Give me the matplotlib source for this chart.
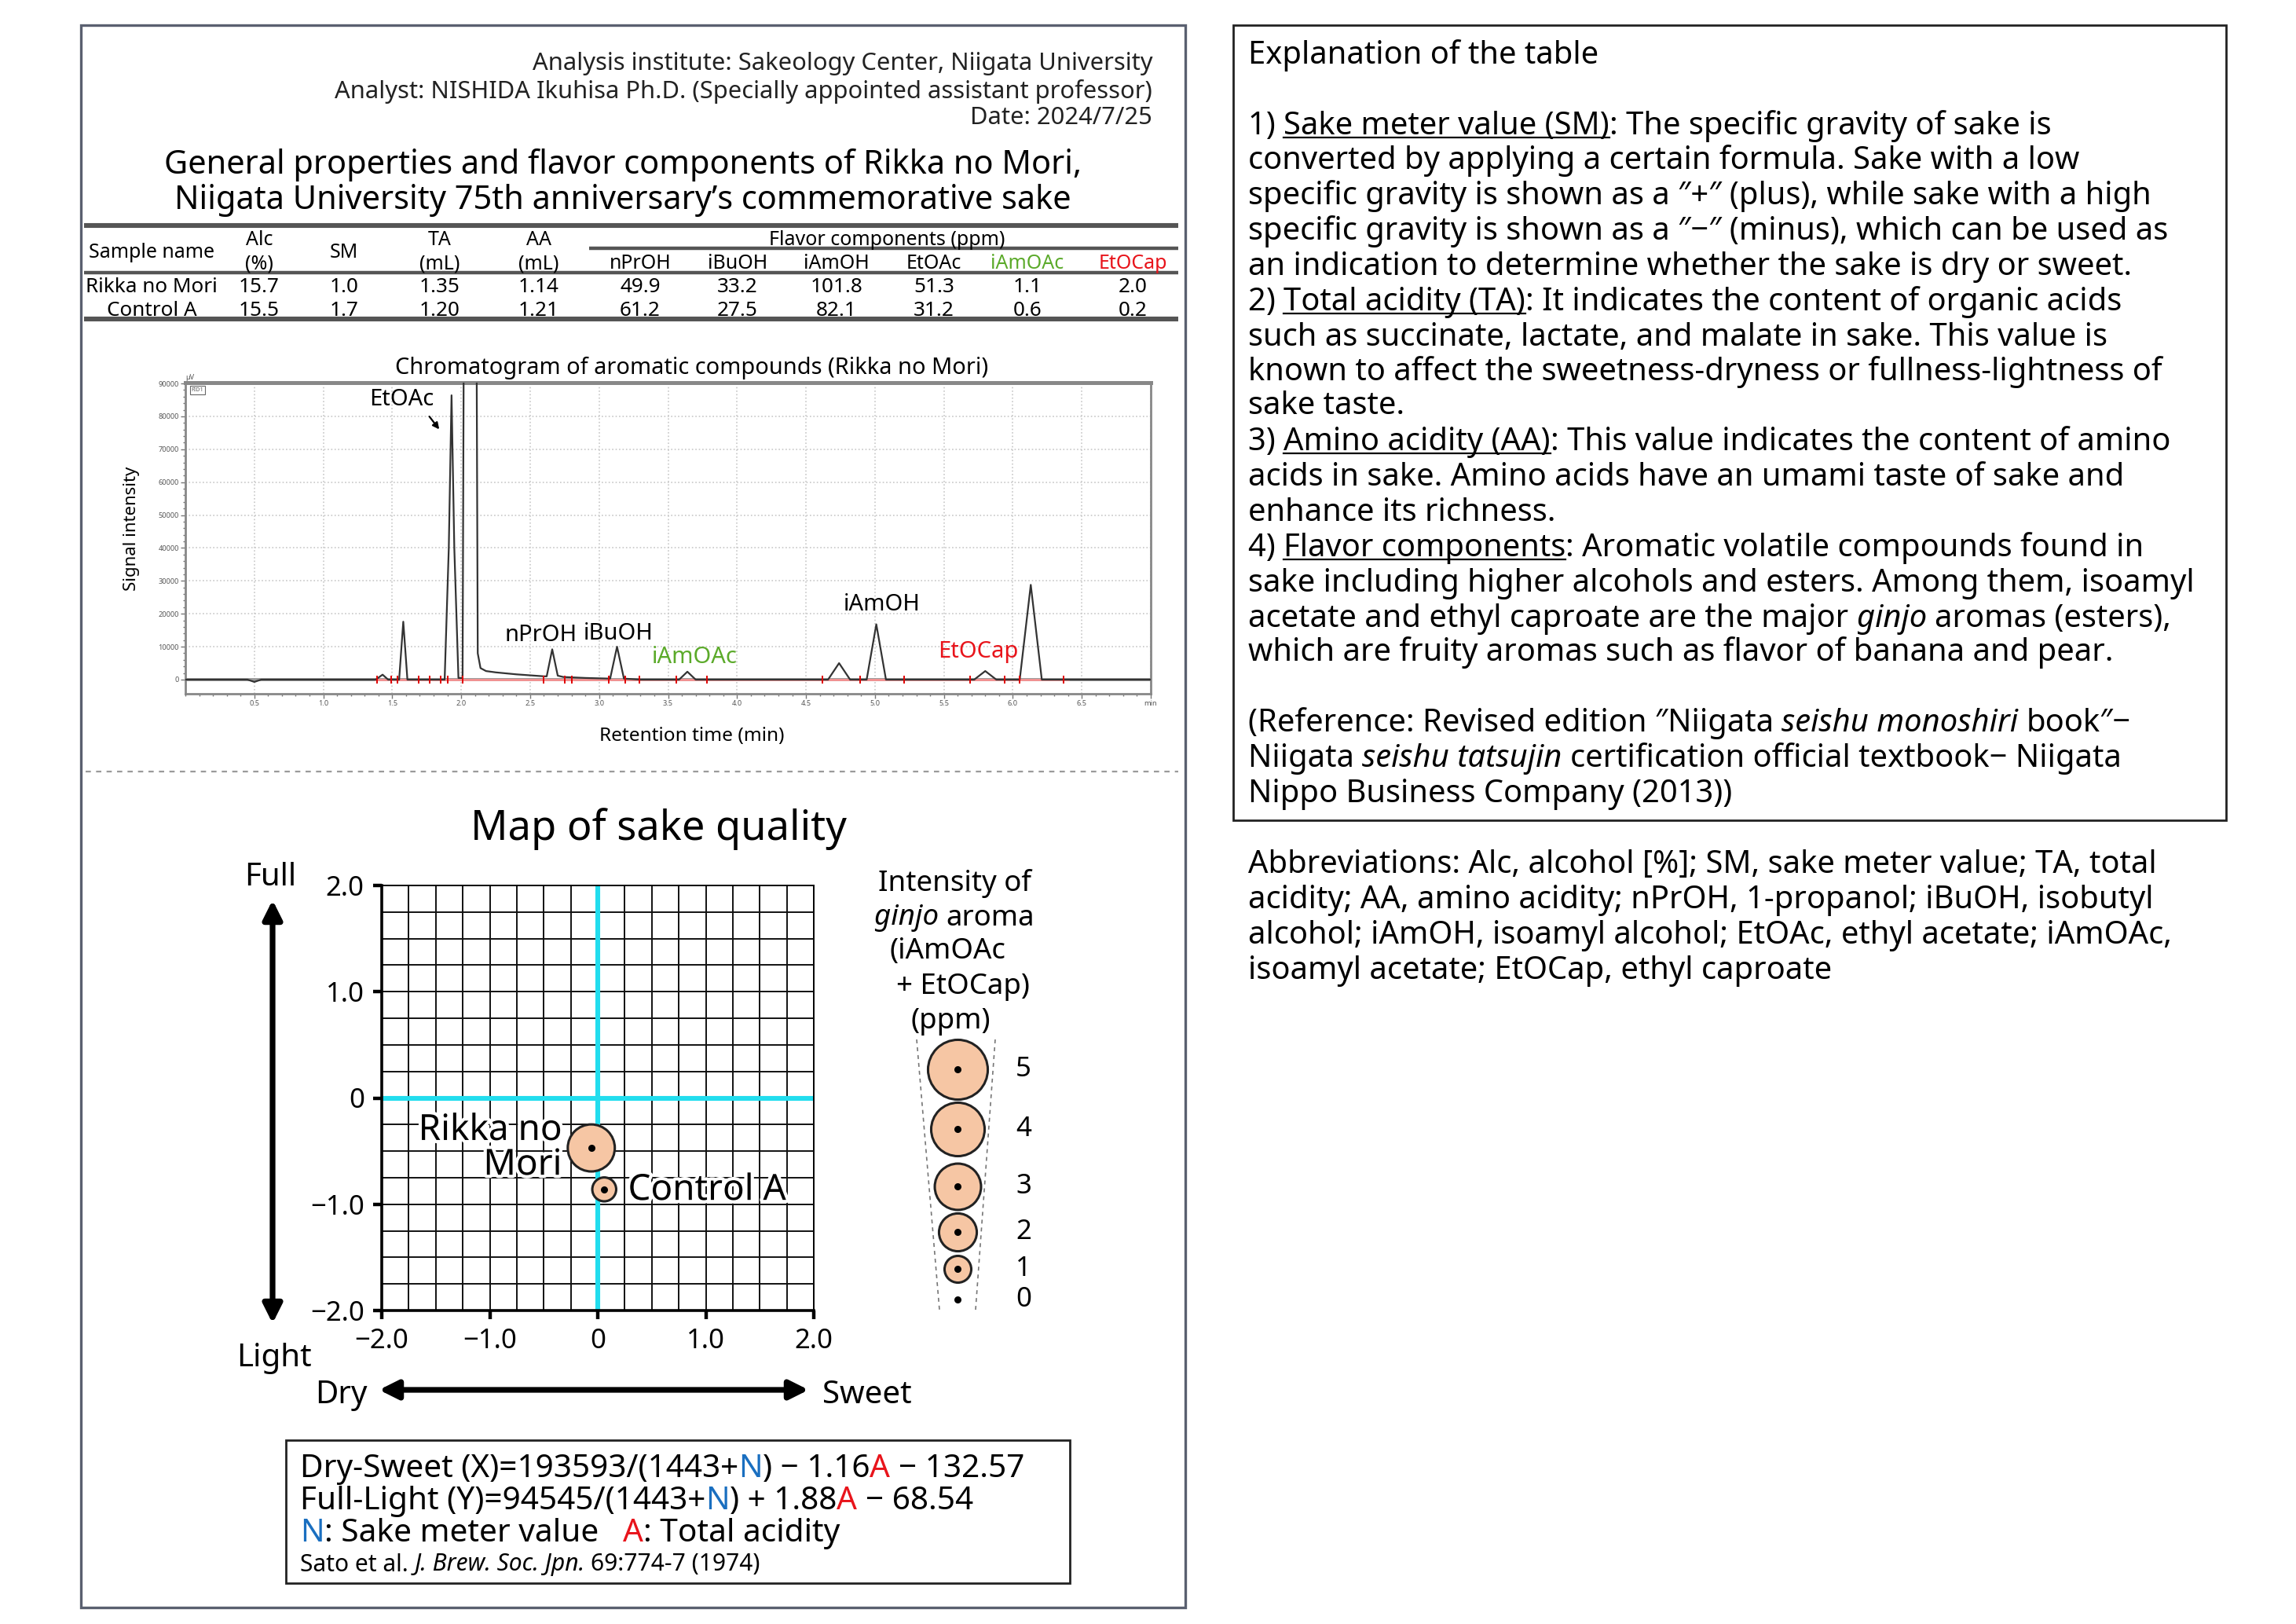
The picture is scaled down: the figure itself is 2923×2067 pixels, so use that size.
import numpy as np
import matplotlib
matplotlib.use('Agg')
import matplotlib.pyplot as plt
import matplotlib.patheffects as pe
from matplotlib.patches import Rectangle

plt.rcParams['font.family'] = ['Noto Sans', 'DejaVu Sans']

# ---- table data ----
samples = ['Rikka no Mori', 'Control A']
alc = [15.7, 15.5]
sm = [1.0, 1.7]
ta = [1.35, 1.20]
aa = [1.14, 1.21]
flavor_names = ['nPrOH', 'iBuOH', 'iAmOH', 'EtOAc', 'iAmOAc', 'EtOCap']
flavor_colors = ['k', 'k', 'k', 'k', '#5BAA2A', '#E8141B']
npr = [49.9, 61.2]
ibu = [33.2, 27.5]
iamoh = [101.8, 82.1]
etoac = [51.3, 31.2]
iamoac = [1.1, 0.6]
etocap = [2.0, 0.2]

# ---- chromatogram trace (Rikka no Mori) ----
chrom_t = [0.0, 0.45, 0.50, 0.55, 0.90, 1.38, 1.43, 1.47, 1.55, 1.58, 1.61,
           1.88, 1.91, 1.93, 1.95, 1.98, 2.01, 2.02, 2.11, 2.12, 2.14, 2.18,
           2.25, 2.40, 2.60, 2.62, 2.66, 2.70, 2.74, 2.90, 3.08, 3.13, 3.18,
           3.30, 3.58, 3.64, 3.70, 4.66, 4.74, 4.82, 4.94, 5.01, 5.08, 5.18,
           5.72, 5.80, 5.88, 6.05, 6.13, 6.21, 6.30, 7.0]
chrom_s = [0, 0, -700, 0, 0, 0, 1500, 0, 0, 17600, 0,
           0, 40000, 86400, 40000, 500, 500, 120000, 120000, 8000, 3500, 2600,
           2200, 1600, 1000, 1000, 9200, 1200, 800, 500, 300, 10000, 300,
           0, 0, 2400, 0, 0, 5000, 0, 0, 16800, 0, 0,
           0, 2600, 0, 0, 28800, 0, 0, 0]
integ_marks = [1.39, 1.49, 1.54, 1.69, 1.77, 1.85, 1.90, 2.01, 2.60, 2.75, 2.80,
               3.07, 3.19, 3.29, 3.56, 3.78, 4.62, 4.89, 5.21, 5.69, 5.94, 6.05, 6.37]
peak_labels = ['EtOAc', 'nPrOH', 'iBuOH', 'iAmOAc', 'iAmOH', 'EtOCap']
peak_label_t = [1.57, 2.58, 3.14, 3.69, 5.05, 5.75]
peak_label_s = [85000, 13600, 14000, 6800, 22800, 8400]
peak_label_c = ['k', 'k', 'k', '#5BAA2A', 'k', '#E8141B']

# ---- map of sake quality ----
map_names = ['Rikka no\nMori', 'Control A']
map_x = [-0.06, 0.06]
map_y = [-0.47, -0.86]
aroma = [a + b for a, b in zip(iamoac, etocap)]
legend_vals = [5, 4, 3, 2, 1, 0]

W, H = 2923, 2067
fig = plt.figure(figsize=(W / 200, H / 200), dpi=200)
bg = fig.add_axes([0, 0, 1, 1])
bg.set_xlim(0, W)
bg.set_ylim(H, 0)
bg.axis('off')
renderer = fig.canvas.get_renderer()


def add_ax(l, t, r, b):
    return fig.add_axes([l / W, 1 - b / H, (r - l) / W, (b - t) / H])


def span(s, **kw):
    t = bg.text(0, 0, s, **kw)
    w = t.get_window_extent(renderer).width
    t.remove()
    return w


def adv(s, **kw):
    return span('|' + s + '|', **kw) - span('||', **kw)


def fit(s, target, **kw):
    return 10 * target / adv(s, fontsize=10, **kw)


def rich(x, y, segs, size, ha='left'):
    # segs: (text, color, italic, underline)
    widths = [adv(s, fontsize=size, style='italic' if it else 'normal') for s, c, it, u in segs]
    tot = sum(widths)
    if ha == 'center':
        x -= tot / 2
    elif ha == 'right':
        x -= tot
    em = size * 200 / 72
    for (s, c, it, u), w in zip(segs, widths):
        bg.text(x, y, s, fontsize=size, color=c, style='italic' if it else 'normal',
                ha='left', va='center_baseline')
        if u:
            yb = y + 0.36 * em + 0.12 * em
            bg.plot([x, x + w], [yb, yb], color='k', lw=0.8)
        x += w


def seg(s, c='k', it=False, u=False):
    return (s, c, it, u)


# ---- frames ----
bg.add_patch(Rectangle((103, 32), 1406, 2014, fill=False, ec='#5a6070', lw=1.2))
bg.add_patch(Rectangle((1570, 32), 1264, 1012, fill=False, ec='#222', lw=1.0))
bg.plot([109, 1500], [982, 982], ls=(0, (3, 3)), color='#9a9a9a', lw=0.8)

# ---- header ----
hdr = ['Analysis institute: Sakeology Center, Niigata University',
       'Analyst: NISHIDA Ikuhisa Ph.D. (Specially appointed assistant professor)',
       'Date: 2024/7/25']
hs = fit(hdr[1], 1040)
for s, y in zip(hdr, [77, 113, 147]):
    bg.text(1467, y, s, fontsize=hs, ha='right', va='center_baseline', color='#222')

title = ['General properties and flavor components of Rikka no Mori,',
         'Niigata University 75th anniversary\u2019s commemorative sake']
ts = fit(title[0], 1170)
for s, y in zip(title, [205, 250]):
    bg.text(793, y, s, fontsize=ts, ha='center', va='center_baseline')

# ---- table ----
for y, x0, lw in [(287, 107, 2.2), (316, 750, 1.6), (347, 107, 1.6), (406, 107, 2.2)]:
    bg.plot([x0, 1500], [y, y], color='#555', lw=lw, solid_capstyle='butt')
cols_x = [193, 330, 438, 560, 686, 815, 939, 1065, 1189, 1308, 1442]
hsz = 9.0
bg.text(cols_x[0], 319, 'Sample name', fontsize=hsz, ha='center', va='center_baseline')
bg.text(cols_x[2], 319, 'SM', fontsize=hsz, ha='center', va='center_baseline')
for i, (a, b) in zip([1, 3, 4], [('Alc', '(%)'), ('TA', '(mL)'), ('AA', '(mL)')]):
    bg.text(cols_x[i], 303, a, fontsize=hsz, ha='center', va='center_baseline')
    bg.text(cols_x[i], 333, b, fontsize=hsz, ha='center', va='center_baseline')
bg.text(1129, 302, 'Flavor components (ppm)', fontsize=hsz, ha='center', va='center_baseline')
for i, (nm, c) in enumerate(zip(flavor_names, flavor_colors)):
    bg.text(cols_x[5 + i], 333, nm, fontsize=hsz, color=c, ha='center', va='center_baseline')
dsz = 9.4
for r, y in enumerate([363, 392]):
    vals = [samples[r], f'{alc[r]:.1f}', f'{sm[r]:.1f}', f'{ta[r]:.2f}', f'{aa[r]:.2f}',
            f'{npr[r]:.1f}', f'{ibu[r]:.1f}', f'{iamoh[r]:.1f}', f'{etoac[r]:.1f}',
            f'{iamoac[r]:.1f}', f'{etocap[r]:.1f}']
    for x, v in zip(cols_x, vals):
        bg.text(x, y, v, fontsize=dsz, ha='center', va='center_baseline')

# ---- chromatogram ----
cx = add_ax(236, 487, 1465, 883)
cx.plot(chrom_t, chrom_s, color='#333', lw=0.8, zorder=4)
cx.axhline(0, color='#999', lw=1.4, zorder=2)
cx.plot([1.38, 6.4], [0, 0], color='#ff9090', lw=0.9, zorder=3)
cx.plot(integ_marks, [0] * len(integ_marks), '|', color='#e00000', ms=3.5, mew=0.7, zorder=5)
cx.set_xlim(0, 7)
cx.set_ylim(-4300, 90250)
cx.set_xticks(np.arange(0.5, 7.01, 0.5))
cx.set_xticklabels([f'{v:.1f}' for v in np.arange(0.5, 6.51, 0.5)] + ['min'])
cx.set_xticks(np.arange(0, 7.01, 0.1), minor=True)
cx.set_yticks(np.arange(0, 90001, 10000))
cx.set_yticklabels([str(v) for v in range(0, 90001, 10000)])
cx.set_yticks(np.arange(0, 90001, 2000), minor=True)
cx.tick_params(which='both', labelsize=3.3, labelcolor='#555', color='#777', length=2, width=0.5, pad=1)
cx.tick_params(which='minor', length=1.2)
cx.grid(True, ls=':', color='#c8c8c8', lw=0.6)
for sp in cx.spines.values():
    sp.set_color('#888')
    sp.set_linewidth(1.0)
cx.spines['top'].set_linewidth(1.8)
cx.text(0.0, 1.005, '\u00b5V', transform=cx.transAxes, fontsize=3.3, color='#555', ha='left', va='bottom')
cx.text(0.006, 0.985, 'FID1', transform=cx.transAxes, fontsize=2.6, color='#555', ha='left', va='top',
        bbox=dict(boxstyle='square,pad=0.25', fc='w', ec='#666', lw=0.4))
for nm, t, s, c in zip(peak_labels, peak_label_t, peak_label_s, peak_label_c):
    cx.text(t, s, nm, fontsize=10.5, color=c, ha='center', va='center')
cx.annotate('', xy=(1.86, 75000), xytext=(1.75, 81000),
            arrowprops=dict(arrowstyle='-|>', color='k', lw=0.8, mutation_scale=6))
ct = 'Chromatogram of aromatic compounds (Rikka no Mori)'
bg.text(881, 465, ct, fontsize=fit(ct, 753, weight='semibold'), weight='semibold',
        ha='center', va='center_baseline')
bg.text(881, 934, 'Retention time (min)', fontsize=8.8, weight='semibold', ha='center', va='center_baseline')
bg.text(168, 673, 'Signal intensity', fontsize=8.0, rotation=90, ha='center', va='center')

# ---- map of sake quality ----
mt = 'Map of sake quality'
bg.text(838, 1049, mt, fontsize=fit(mt, 478), ha='center', va='center_baseline')
mx = add_ax(486, 1127, 1036, 1668)
mx.set_xlim(-2, 2)
mx.set_ylim(-2, 2)
for v in np.arange(-2, 2.01, 0.25):
    mx.axvline(v, color='#111', lw=0.7, zorder=1)
    mx.axhline(v, color='#111', lw=0.7, zorder=1)
mx.axvline(0, color='#22DDEE', lw=2.2, zorder=2)
mx.axhline(0, color='#22DDEE', lw=2.2, zorder=2)
for sp in mx.spines.values():
    sp.set_linewidth(0.7)
mx.spines['left'].set_linewidth(1.3)
mx.spines['bottom'].set_linewidth(1.3)
mx.set_xticks([-2, -1, 0, 1, 2])
mx.set_yticks([-2, -1, 0, 1, 2])
lab = ['\u22122.0', '\u22121.0', '0', '1.0', '2.0']
mx.set_xticklabels(lab)
mx.set_yticklabels(lab)
mx.tick_params(labelsize=12.5, length=4, width=1.6, pad=4)
mx.scatter(map_x, map_y, s=[150 * a for a in aroma], facecolor='#F6C6A4', edgecolor='#222',
           lw=1.1, zorder=5, clip_on=False)
mx.scatter(map_x, map_y, s=5, color='k', zorder=6)
halo = [pe.withStroke(linewidth=3, foreground='w')]
mx.text(-0.33, -0.47, map_names[0], fontsize=16.5, ha='right', va='center', multialignment='right',
        linespacing=0.95, zorder=7, path_effects=halo)
mx.text(0.28, -0.87, map_names[1], fontsize=16.5, ha='left', va='center', zorder=7, path_effects=halo)

# axis arrows
bg.annotate('', xy=(347, 1140), xytext=(347, 1690),
            arrowprops=dict(arrowstyle='<|-|>', color='k', lw=2.6, mutation_scale=18))
bg.annotate('', xy=(477, 1769), xytext=(1035, 1769),
            arrowprops=dict(arrowstyle='<|-|>', color='k', lw=2.6, mutation_scale=18))
for s, x, y in [('Full', 344, 1112), ('Light', 349, 1724), ('Dry', 434, 1771), ('Sweet', 1104, 1771)]:
    bg.text(x, y, s, fontsize=14.5, ha='center', va='center_baseline')

# legend of aroma intensity
lsz = 13.2
rich(1215, 1120, [seg('Intensity of')], lsz, ha='center')
rich(1215, 1164, [seg('ginjo ', it=True), seg('aroma')], lsz, ha='center')
rich(1206, 1207, [seg('(iAmOAc')], lsz, ha='center')
rich(1226, 1251, [seg('+ EtOCap)')], lsz, ha='center')
rich(1210, 1295, [seg('(ppm)')], lsz, ha='center')
bg.plot([1167, 1196], [1323, 1667], ls=(0, (3, 3)), color='#777', lw=0.6)
bg.plot([1267, 1242], [1323, 1667], ls=(0, (3, 3)), color='#777', lw=0.6)
leg_y = [1361, 1437, 1510, 1568, 1615, 1654]
for v, y in zip(legend_vals, leg_y):
    if v > 0:
        bg.scatter([1219], [y], s=150 * v, facecolor='#F6C6A4', edgecolor='#222', lw=1.1, zorder=5)
    bg.scatter([1219], [y], s=5, color='k', zorder=6)
    bg.text(1303, y, str(v), fontsize=12.5, ha='center', va='center')

# formula box
bg.add_patch(Rectangle((364, 1833), 998, 182, fill=False, ec='#222', lw=1.0))
blue, red = '#1a6fc0', '#e8141b'
f1 = [seg('Dry-Sweet (X)=193593/(1443+'), seg('N', blue), seg(') \u2212 1.16'), seg('A ', red), seg('\u2212 132.57')]
fs = fit(''.join(s[0] for s in f1), 925)
rich(382, 1865, f1, fs)
rich(382, 1906, [seg('Full-Light (Y)=94545/(1443+'), seg('N', blue), seg(') + 1.88'), seg('A ', red),
                 seg('\u2212 68.54')], fs)
rich(382, 1947, [seg('N', blue), seg(': Sake meter value   '), seg('A', red), seg(': Total acidity')], fs)
rich(382, 1988, [seg('Sato et al. '), seg('J. Brew. Soc. Jpn. ', it=True), seg('69:774-7 (1974)')], fs * 0.74)

# ---- explanation panel ----
rs = fit('known to affect the sweetness-dryness or fullness-lightness of', 1165)
expl = [
    (66, [seg('Explanation of the table')]),
    (156, [seg('1) '), seg('Sake meter value (SM)', u=True), seg(': The specific gravity of sake is')]),
    (200, [seg('converted by applying a certain formula. Sake with a low')]),
    (245, [seg('specific gravity is shown as a \u2033+\u2033 (plus), while sake with a high')]),
    (290, [seg('specific gravity is shown as a \u2033\u2212\u2033 (minus), which can be used as')]),
    (335, [seg('an indication to determine whether the sake is dry or sweet.')]),
    (380, [seg('2) '), seg('Total acidity (TA)', u=True), seg(': It indicates the content of organic acids')]),
    (425, [seg('such as succinate, lactate, and malate in sake. This value is')]),
    (469, [seg('known to affect the sweetness-dryness or fullness-lightness of')]),
    (512, [seg('sake taste.')]),
    (558, [seg('3) '), seg('Amino acidity (AA)', u=True), seg(': This value indicates the content of amino')]),
    (603, [seg('acids in sake. Amino acids have an umami taste of sake and')]),
    (648, [seg('enhance its richness.')]),
    (693, [seg('4) '), seg('Flavor components', u=True), seg(': Aromatic volatile compounds found in')]),
    (738, [seg('sake including higher alcohols and esters. Among them, isoamyl')]),
    (783, [seg('acetate and ethyl caproate are the major '), seg('ginjo ', it=True), seg('aromas (esters),')]),
    (826, [seg('which are fruity aromas such as flavor of banana and pear.')]),
    (916, [seg('(Reference: Revised edition \u2033Niigata '), seg('seishu monoshiri ', it=True), seg('book\u2033\u2212')]),
    (961, [seg('Niigata '), seg('seishu tatsujin ', it=True), seg('certification official textbook\u2212 Niigata')]),
    (1006, [seg('Nippo Business Company (2013))')]),
    (1096, [seg('Abbreviations: Alc, alcohol [%]; SM, sake meter value; TA, total')]),
    (1141, [seg('acidity; AA, amino acidity; nPrOH, 1-propanol; iBuOH, isobutyl')]),
    (1186, [seg('alcohol; iAmOH, isoamyl alcohol; EtOAc, ethyl acetate; iAmOAc,')]),
    (1231, [seg('isoamyl acetate; EtOCap, ethyl caproate')]),
]
for y, segs in expl:
    rich(1589, y, segs, rs)

fig.savefig('out.png', dpi=200)
